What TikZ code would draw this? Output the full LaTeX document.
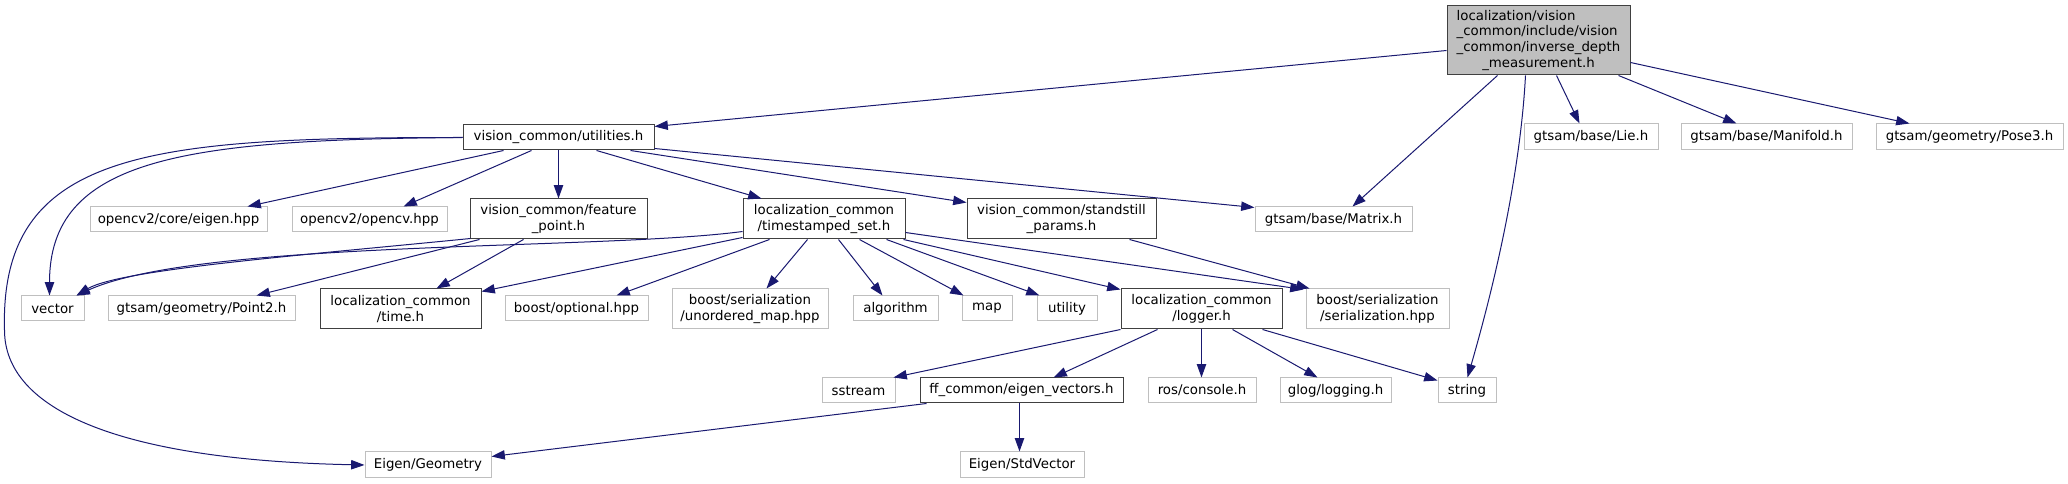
\documentclass[tikz,border=0pt]{standalone}
\usepackage{fontspec}
\setmainfont{DejaVu Sans}
\usetikzlibrary{arrows.meta,calc}
\definecolor{edgeblue}{HTML}{191970}
\definecolor{extgray}{HTML}{BFBFBF}
\definecolor{intgray}{HTML}{404040}
\begin{document}
\begin{tikzpicture}[x=0.75pt,y=-0.75pt,
  base/.style={rectangle, inner sep=0pt, font=\fontsize{10pt}{11.75pt}\selectfont, align=center, line width=0.75pt},
  ext/.style={base, draw=extgray, fill=white},
  int/.style={base, draw=intgray, fill=white},
  mainnode/.style={base, draw=intgray, fill=extgray},
  sz/.style 2 args={minimum width=#1*0.75pt, minimum height=#2*0.75pt},
  dep/.style={draw=edgeblue, line width=0.75pt, -{Triangle[length=10pt,width=7pt]}}]
\fill[white] (0,0) rectangle (2068,484);
\useasboundingbox (0,0) rectangle (2068,484);

% nodes
\node[mainnode, sz={183}{69}] (M) at (1538.5,40.5) {\begin{tabular}{@{}l@{}}localization/vision\\\_common/include/vision\\\_common/inverse\_depth\\\multicolumn{1}{@{}c@{}}{\_measurement.h}\end{tabular}};
\node[int, sz={191}{25}] (U) at (558.5,137.5) {vision\_common/utilities.h};
\node[ext, sz={177}{25}] (CE) at (178.5,219.5) {opencv2/core/eigen.hpp};
\node[ext, sz={155}{25}] (CV) at (369.5,219.5) {opencv2/opencv.hpp};
\node[int, sz={177}{40}] (F) at (558.5,219) {vision\_common/feature\\\_point.h};
\node[int, sz={162}{40}] (T) at (824,219) {localization\_common\\/timestamped\_set.h};
\node[int, sz={189}{40}] (S) at (1061.5,219) {vision\_common/standstill\\\_params.h};
\node[ext, sz={157}{25}] (MX) at (1333.5,219.5) {gtsam/base/Matrix.h};
\node[ext, sz={134}{26}] (LIE) at (1591,137) {gtsam/base/Lie.h};
\node[ext, sz={171}{26}] (MAN) at (1766.5,137) {gtsam/base/Manifold.h};
\node[ext, sz={187}{26}] (POSE) at (1969.5,137) {gtsam/geometry/Pose3.h};
\node[ext, sz={63}{25}] (VEC) at (52.5,308.5) {vector};
\node[ext, sz={187}{25}] (P2) at (201.5,308.5) {gtsam/geometry/Point2.h};
\node[int, sz={161}{40}] (TIME) at (400.5,309) {localization\_common\\/time.h};
\node[ext, sz={143}{25}] (OPT) at (576.5,308.5) {boost/optional.hpp};
\node[ext, sz={156}{40}] (UM) at (750,309) {boost/serialization\\/unordered\_map.hpp};
\node[ext, sz={85}{25}] (ALG) at (895.5,308.5) {algorithm};
\node[ext, sz={50}{25}] (MAP) at (987,308.5) {map};
\node[ext, sz={60}{25}] (UTIL) at (1067,308.5) {utility};
\node[int, sz={161}{40}] (L) at (1201.5,309) {localization\_common\\/logger.h};
\node[ext, sz={143}{40}] (SER) at (1377.5,309) {boost/serialization\\/serialization.hpp};
\node[ext, sz={73}{25}] (SS) at (858.5,390.5) {sstream};
\node[int, sz={203}{25}] (E) at (1021.5,390.5) {ff\_common/eigen\_vectors.h};
\node[ext, sz={108}{25}] (CON) at (1202,390.5) {ros/console.h};
\node[ext, sz={111}{25}] (LOG) at (1335.5,390.5) {glog/logging.h};
\node[ext, sz={58}{25}] (STR) at (1467,390.5) {string};
\node[ext, sz={126}{26}] (GEO) at (428,465) {Eigen/Geometry};
\node[ext, sz={124}{26}] (STD) at (1022,465) {Eigen/StdVector};

% edges from main
\draw[dep] ($(M.north west)+(0,45)$) -- ($(U.north east)+(0,2)$);
\draw[dep] ($(M.south west)+(51,0)$) -- ($(MX.north west)+(98,0)$);
\draw[dep] ($(M.south west)+(79,0)$) .. controls ($(M.south west)+(75,75)$) and ($(STR.north west)+(67,-128)$) .. ($(STR.north west)+(30,0)$);
\draw[dep] ($(M.south west)+(110,0)$) -- ($(LIE.north west)+(56,0)$);
\draw[dep] ($(M.south west)+(172,0)$) -- ($(MAN.north west)+(56,0)$);
\draw[dep] ($(M.south east)+(0,-13)$) -- ($(POSE.north west)+(34,0)$);

% edges from utilities
\draw[dep] ($(U.south west)+(41,0)$) -- ($(CE.north west)+(158,0)$);
\draw[dep] ($(U.south west)+(69,0)$) -- ($(CV.north west)+(112,0)$);
\draw[dep] ($(U.south west)+(96,0)$) -- ($(F.north west)+(89,0)$);
\draw[dep] ($(U.south west)+(134,0)$) -- ($(T.north west)+(19,0)$);
\draw[dep] ($(U.south west)+(168,0)$) -- ($(S.north west)+(0,4)$);
\draw[dep] ($(U.south east)+(0,-2)$) -- ($(MX.north west)+(0,1)$);
\draw[dep] (U.west) .. controls +(-283,2) and +(0,-136) .. ($(VEC.north west)+(29,0)$);
\draw[dep] (U.west) .. controls +(-313,0) and +(-5,-180) .. ($(VEC.west)+(-16,21.5)$) .. controls +(0,80) and +(-245,-5) .. (GEO.west);

% edges from feature_point
\draw[dep] ($(F.south west)+(1,-1)$) .. controls +(-171,17) and +(43,-26) .. ($(VEC.north west)+(56,0)$);
\draw[dep] ($(F.south west)+(10,0)$) -- ($(P2.north west)+(149,0)$);
\draw[dep] ($(F.south west)+(54,0)$) -- ($(TIME.north west)+(117,0)$);

% edges from timestamped_set
\draw[dep] ($(T.south west)+(0,-8)$) .. controls +(-143,19) and +(123,-56) .. ($(VEC.north west)+(56,0)$);
\draw[dep] ($(T.south west)+(0,-2)$) -- ($(TIME.north east)+(0,3)$);
\draw[dep] ($(T.south west)+(27,0)$) -- ($(OPT.north west)+(112,0)$);
\draw[dep] ($(T.south west)+(65,0)$) -- ($(UM.north west)+(95,0)$);
\draw[dep] ($(T.south west)+(96,0)$) -- ($(ALG.north west)+(30,0)$);
\draw[dep] ($(T.south west)+(117,0)$) -- ($(MAP.north west)+(2,0)$);
\draw[dep] ($(T.south west)+(144,0)$) -- ($(UTIL.north west)+(3,0)$);
\draw[dep] ($(T.south east)+(-2,0)$) -- ($(L.north west)+(0,1)$);
\draw[dep] ($(T.south east)+(0,-7)$) -- ($(SER.north west)+(-2,1)$);

% edge from standstill
\draw[dep] ($(S.south west)+(163,0)$) -- ($(SER.north west)+(4,0)$);

% edges from logger
\draw[dep] (L.south west) -- ($(SS.north east)+(-2,0)$);
\draw[dep] ($(L.south west)+(37,0)$) -- ($(E.north west)+(134,0)$);
\draw[dep] ($(L.south west)+(81,0)$) -- ($(CON.north west)+(54,0)$);
\draw[dep] ($(L.south west)+(112,0)$) -- ($(LOG.north west)+(38,0)$);
\draw[dep] ($(L.south west)+(142,0)$) -- ($(STR.north west)+(0,3)$);

% edges from eigen_vectors
\draw[dep] ($(E.south west)+(7,0)$) -- ($(GEO.north east)+(0,5)$);
\draw[dep] ($(E.south west)+(100,0)$) -- ($(STD.north west)+(60,0)$);
\end{tikzpicture}
\end{document}
